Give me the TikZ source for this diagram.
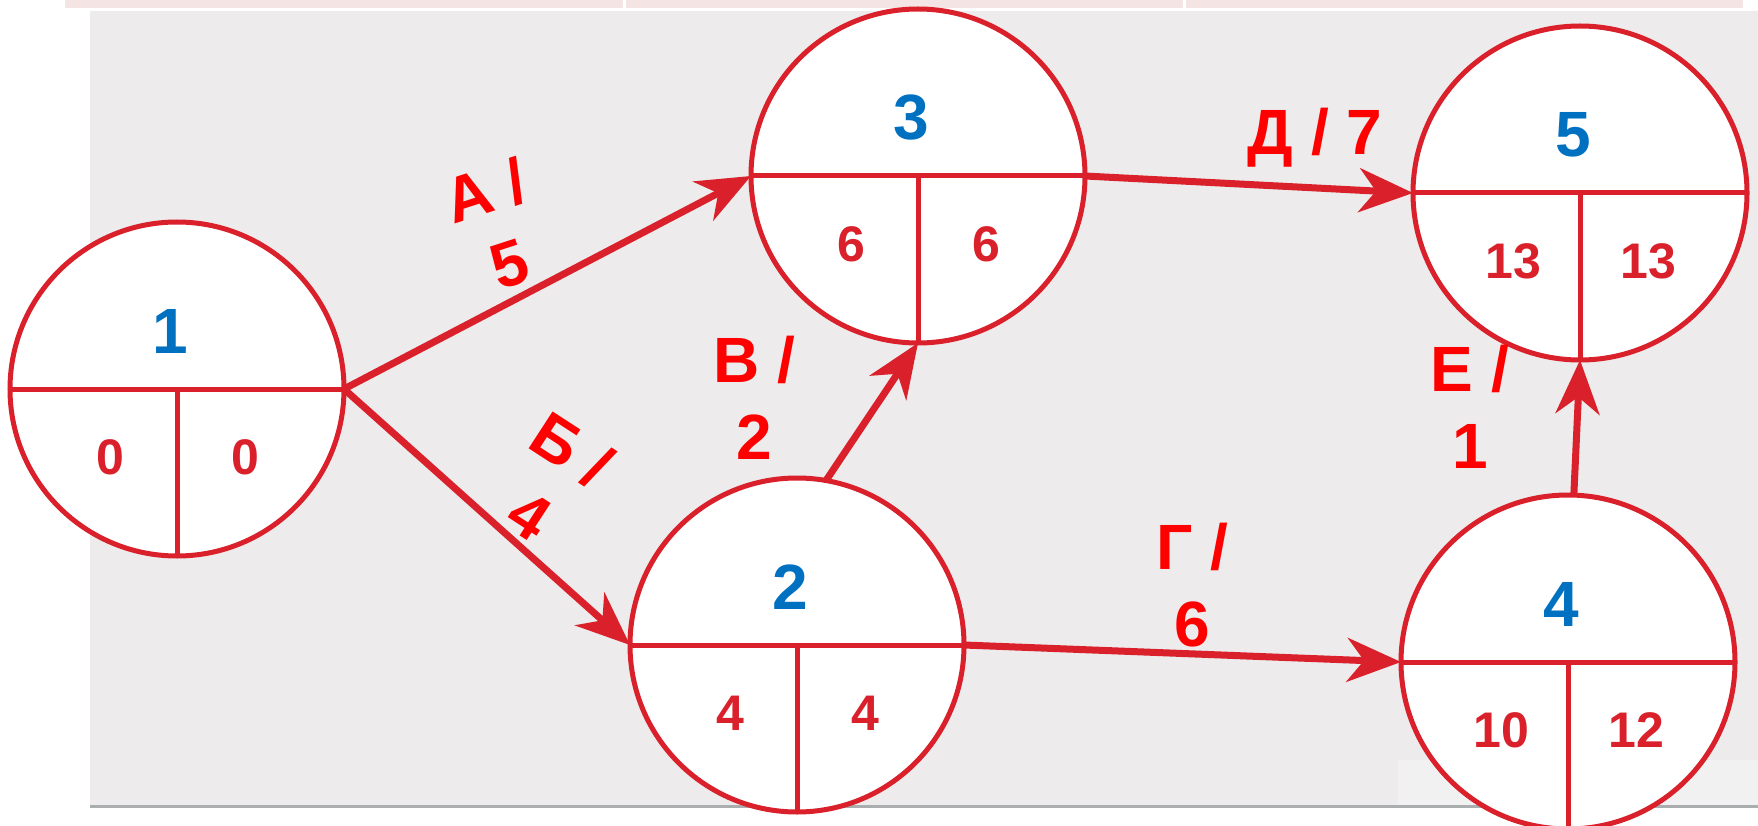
\documentclass[tikz,border=0pt]{standalone}
\usepackage{fontspec}
\setmainfont{Liberation Sans}
\usetikzlibrary{arrows.meta}
\definecolor{cred}{RGB}{218,32,42}
\definecolor{lred}{RGB}{255,0,0}
\definecolor{cblue}{RGB}{0,112,192}
\definecolor{bgray}{RGB}{237,235,236}
\definecolor{bglight}{RGB}{242,241,241}
\definecolor{strip}{RGB}{245,228,228}
\definecolor{edgegray}{RGB}{170,174,174}
\newcommand{\evnode}[6]{%
  \node[ev] (#1) at (#2,#3) {};
  \draw[sepline] (#1.west) -- (#1.east);
  \draw[sepline] (#1.center) -- (#1.south);
  \node[num] (#1n) at ([shift={(-7,-58)}]#1.center) {#4};
  \node[val] (#1l) at ([shift={(-67,68)}]#1.center) {#5};
  \node[val] (#1r) at ([shift={(68,68)}]#1.center) {#6};
}
\begin{document}
\begin{tikzpicture}[x=1pt,y=-1pt,
  ev/.style={circle, draw=cred, line width=5pt, fill=white, minimum size=334pt, inner sep=0pt, outer sep=0pt},
  num/.style={text=cblue, font=\fontsize{64}{77}\selectfont\bfseries, inner sep=0pt},
  val/.style={text=cred, font=\fontsize{50}{60}\selectfont\bfseries, inner sep=0pt},
  act/.style={text=lred, font=\fontsize{64}{77}\selectfont\bfseries, align=center, inner sep=0pt},
  conn/.style={draw=cred, line width=7pt, -{Stealth[length=54pt,width=44pt,inset=17pt]}},
  sepline/.style={draw=cred, line width=5pt}]
\useasboundingbox (0,0) rectangle (1758,826);
% background
\fill[white] (0,0) rectangle (1758,826);
\fill[strip] (65,0) rectangle (1743,8);
\fill[white] (623,0) rectangle (626,8);
\fill[white] (1183,0) rectangle (1186,8);
\fill[bgray] (90,11) rectangle (1758,805);
\fill[bglight] (1398,760) rectangle (1758,805);
\draw[edgegray, line width=3pt] (90,806.5) -- (1758,806.5);
% events
\evnode{c1}{177}{389}{1}{0}{0}
\evnode{c3}{918}{176}{3}{6}{6}
\evnode{c5}{1580}{193}{5}{13}{13}
\evnode{c2}{797}{645}{2}{4}{4}
\evnode{c4}{1568}{662}{4}{10}{12}
% activities
\draw[conn] (c1.east) -- (c3.west);
\draw[conn] (c1.east) -- (c2.west);
\draw[conn] (c2.80) -- (c3.south);
\draw[conn] (c3.east) -- (c5.west);
\draw[conn] (c2.east) -- (c4.west);
\draw[conn] (c4.88.5) -- (c5.south);
% labels
\node[act, rotate=18] (lA) at (497,227) {А /\\5};
\node[act, rotate=-33] (lB) at (551,482) {Б /\\4};
\node[act] (lV) at (754,398) {В /\\2};
\node[act] (lG) at (1192,585) {Г /\\6};
\node[act, anchor=base] (lD) at (1315,155) {Д / 7};
\node[act] (lE) at (1470,407) {Е /\\1};
\end{tikzpicture}
\end{document}
